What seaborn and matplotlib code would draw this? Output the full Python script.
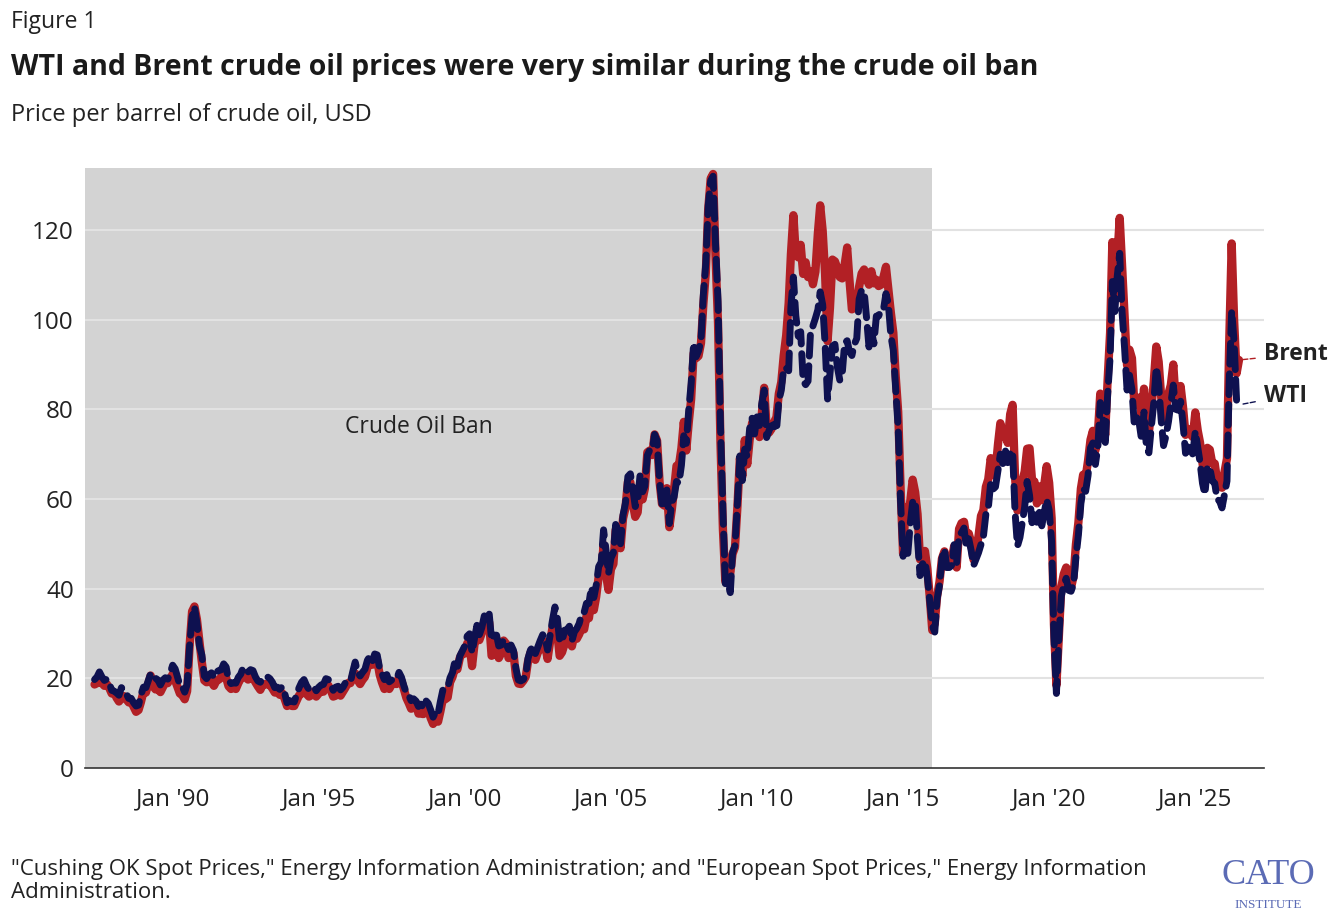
import pandas as pd
import numpy as np
import matplotlib
matplotlib.use("Agg")
import matplotlib.pyplot as plt
import seaborn as sns

# monthly averages, USD per barrel, starting May 1987
brent_by_year = {
    1987: [18.6, 18.9, 19.9, 18.9, 18.3, 18.7, 17.8, 16.6],
    1988: [16.8, 15.6, 14.8, 15.6, 16.0, 15.3, 14.6, 14.8, 13.6, 12.5, 12.9, 14.7],
    1989: [17.0, 16.8, 18.6, 20.6, 18.2, 17.5, 17.6, 16.9, 18.0, 19.2, 18.9, 19.9],
    1990: [20.9, 19.5, 18.1, 16.6, 16.2, 15.3, 17.1, 27.2, 34.9, 36.0, 33.1, 28.3],
    1991: [23.6, 19.5, 19.1, 19.2, 19.2, 18.3, 19.4, 19.7, 20.2, 21.4, 20.1, 18.2],
    1992: [17.6, 18.1, 17.6, 18.9, 19.9, 21.2, 20.2, 19.7, 20.2, 20.1, 19.1, 18.2],
    1993: [17.4, 18.6, 18.7, 18.6, 18.5, 17.7, 16.8, 17.0, 16.3, 16.7, 15.4, 13.8],
    1994: [14.3, 13.8, 13.8, 15.0, 16.2, 16.6, 17.5, 16.5, 15.9, 16.2, 17.0, 15.9],
    1995: [16.6, 17.2, 17.0, 18.6, 18.4, 17.3, 15.9, 16.1, 16.7, 16.1, 17.0, 17.9],
    1996: [18.9, 18.9, 20.3, 21.1, 19.6, 18.7, 19.6, 20.3, 22.4, 23.9, 23.0, 23.6],
    1997: [24.0, 20.8, 19.1, 17.6, 19.2, 17.6, 18.6, 18.8, 18.7, 20.3, 19.4, 17.5],
    1998: [15.6, 14.4, 13.2, 13.4, 14.5, 12.1, 12.1, 12.0, 13.4, 12.9, 11.1, 9.8],
    1999: [11.1, 10.3, 12.5, 15.3, 15.3, 15.7, 19.1, 20.3, 22.5, 22.0, 24.6, 25.6],
    2000: [25.5, 27.8, 27.3, 22.7, 27.5, 29.7, 28.5, 30.1, 32.8, 31.1, 32.5, 25.0],
    2001: [25.6, 27.5, 24.5, 25.6, 28.4, 27.7, 24.5, 25.8, 25.6, 20.5, 18.8, 18.7],
    2002: [19.4, 20.3, 23.7, 25.7, 25.4, 24.1, 25.7, 26.6, 28.4, 27.5, 24.3, 28.0],
    2003: [31.2, 32.8, 30.3, 25.0, 25.8, 27.6, 28.4, 29.8, 27.1, 29.6, 28.8, 29.8],
    2004: [31.2, 30.9, 33.8, 33.4, 37.6, 35.2, 38.2, 42.7, 43.2, 49.8, 43.1, 39.7],
    2005: [44.3, 45.5, 53.1, 51.9, 49.0, 55.6, 57.9, 63.8, 63.7, 59.0, 56.0, 57.0],
    2006: [63.6, 59.9, 62.3, 70.4, 70.8, 69.8, 74.4, 73.0, 63.8, 58.9, 58.5, 62.4],
    2007: [53.7, 57.6, 62.1, 67.4, 67.5, 71.3, 77.2, 70.8, 77.1, 82.3, 92.5, 91.4],
    2008: [91.9, 94.8, 103.3, 110.4, 124.6, 131.5, 132.5, 113.9, 99.1, 72.8, 53.2, 41.6],
    2009: [44.9, 43.4, 47.7, 49.2, 58.2, 69.1, 65.0, 73.1, 67.7, 73.2, 77.0, 74.7],
    2010: [76.2, 73.8, 78.8, 84.8, 75.9, 74.8, 75.6, 77.1, 78.2, 83.5, 86.1, 92.0],
    2011: [96.5, 103.7, 114.6, 123.3, 114.5, 113.9, 116.7, 110.2, 112.8, 109.5, 110.8, 107.9],
    2012: [110.7, 119.3, 125.5, 119.8, 110.3, 95.2, 102.6, 113.4, 113.0, 111.5, 109.5, 109.2],
    2013: [112.3, 116.1, 109.0, 102.3, 102.6, 102.9, 107.4, 110.3, 111.2, 109.1, 107.8, 110.8],
    2014: [108.1, 108.9, 107.5, 107.8, 109.5, 111.8, 106.8, 101.6, 97.1, 87.4, 79.4, 62.3],
    2015: [47.8, 58.1, 55.9, 59.5, 64.3, 61.5, 56.6, 46.5, 47.6, 48.4, 44.3, 38.0],
    2016: [30.7, 32.2, 38.2, 41.6, 46.7, 48.3, 44.9, 45.8, 46.6, 49.5, 44.7, 53.3],
    2017: [54.6, 54.9, 51.6, 52.3, 50.3, 46.4, 48.5, 51.7, 56.2, 57.5, 62.7, 64.4],
    2018: [69.1, 65.3, 66.0, 72.1, 76.9, 74.4, 74.3, 72.5, 78.9, 81.0, 64.8, 57.4],
    2019: [59.4, 64.0, 66.1, 71.2, 71.3, 64.2, 63.9, 59.0, 62.8, 59.7, 63.2, 67.3],
    2020: [63.6, 55.7, 32.0, 18.4, 29.4, 40.3, 43.2, 44.7, 40.9, 40.2, 42.7, 49.9],
    2021: [54.8, 62.3, 65.4, 64.8, 68.5, 73.2, 75.2, 70.8, 74.5, 83.5, 81.1, 74.2],
    2022: [86.5, 97.1, 117.3, 104.6, 113.3, 122.7, 111.9, 100.5, 89.8, 93.3, 91.4, 80.9],
    2023: [82.5, 82.6, 78.4, 84.6, 75.5, 74.8, 80.1, 86.2, 94.0, 90.6, 82.9, 77.6],
    2024: [80.1, 83.5, 85.4, 90.0, 81.8, 82.6, 85.2, 80.4, 74.3, 75.6, 74.4, 73.8],
    2025: [79.3, 75.2, 72.6, 68.0, 64.2, 71.4, 71.0, 67.9, 67.9, 64.0, 63.6, 62.5],
    2026: [66.0, 69.0, 95.0, 117.0, 100.0, 88.0, 91.0],
}

wti_by_year = {
    1987: [19.7, 20.3, 21.4, 20.3, 19.5, 19.8, 18.9, 17.3],
    1988: [17.1, 16.7, 16.2, 17.9, 17.4, 16.5, 15.5, 15.5, 14.5, 13.8, 14.0, 16.3],
    1989: [18.0, 17.9, 19.4, 21.0, 20.0, 20.0, 19.6, 18.5, 19.6, 20.1, 19.8, 21.1],
    1990: [22.9, 22.1, 20.4, 18.4, 18.2, 16.9, 18.6, 27.2, 33.7, 35.9, 32.3, 27.3],
    1991: [25.2, 20.5, 19.9, 20.8, 21.2, 20.2, 21.4, 21.7, 21.9, 23.2, 22.5, 19.5],
    1992: [18.8, 19.0, 18.9, 20.2, 20.9, 22.4, 21.8, 21.4, 21.9, 21.7, 20.3, 19.4],
    1993: [19.1, 20.1, 20.3, 20.3, 19.9, 19.1, 17.9, 18.0, 17.5, 18.1, 16.7, 14.5],
    1994: [15.0, 14.8, 14.7, 16.4, 17.9, 19.1, 19.7, 18.4, 17.5, 17.7, 18.1, 17.2],
    1995: [18.0, 18.5, 18.6, 19.9, 19.7, 18.5, 17.3, 18.0, 18.2, 17.4, 18.0, 19.0],
    1996: [18.9, 19.1, 21.4, 23.6, 21.3, 20.5, 21.3, 22.0, 24.0, 24.9, 23.7, 25.4],
    1997: [25.2, 22.2, 21.0, 19.7, 20.8, 19.2, 19.6, 19.9, 19.8, 21.3, 20.2, 18.3],
    1998: [16.7, 16.1, 15.0, 15.4, 14.9, 13.7, 14.2, 13.5, 15.0, 14.4, 12.9, 11.3],
    1999: [12.5, 12.0, 14.7, 17.3, 17.8, 17.9, 20.1, 21.3, 23.9, 22.6, 25.0, 26.1],
    2000: [27.2, 29.4, 29.9, 25.7, 28.8, 31.8, 29.7, 31.3, 33.9, 33.1, 34.4, 28.5],
    2001: [29.6, 29.6, 27.2, 27.4, 28.6, 27.6, 26.4, 27.4, 26.2, 22.2, 19.6, 19.4],
    2002: [19.7, 20.7, 24.4, 26.3, 27.0, 25.5, 26.9, 28.4, 29.7, 28.9, 26.3, 29.4],
    2003: [32.9, 35.9, 33.6, 28.3, 28.1, 30.7, 30.8, 31.6, 28.3, 30.3, 31.1, 32.2],
    2004: [34.3, 34.7, 36.7, 36.7, 40.3, 38.0, 40.7, 44.9, 45.9, 53.1, 48.5, 43.3],
    2005: [46.8, 48.0, 54.3, 53.0, 50.0, 56.4, 59.0, 65.0, 65.6, 62.4, 58.3, 59.4],
    2006: [65.5, 61.6, 62.9, 69.7, 70.9, 70.9, 74.4, 73.0, 63.8, 58.9, 59.1, 62.0],
    2007: [54.5, 59.3, 60.4, 63.9, 63.5, 67.5, 74.1, 72.4, 79.9, 85.8, 94.8, 91.7],
    2008: [93.0, 95.4, 105.5, 112.6, 125.4, 131.0, 132.0, 116.7, 104.1, 76.6, 57.3, 41.1],
    2009: [41.7, 39.1, 47.9, 49.6, 59.0, 69.6, 64.1, 71.1, 69.4, 75.7, 78.0, 74.5],
    2010: [78.3, 76.4, 81.2, 84.3, 73.7, 75.3, 76.3, 76.6, 75.2, 81.9, 84.3, 89.2],
    2011: [89.2, 88.6, 102.9, 109.5, 100.9, 96.3, 97.3, 86.3, 85.5, 86.3, 97.2, 98.6],
    2012: [100.3, 102.2, 106.2, 103.3, 94.7, 82.3, 87.9, 94.1, 94.5, 89.5, 86.5, 87.9],
    2013: [94.8, 95.3, 92.9, 92.0, 94.5, 95.8, 104.6, 106.6, 106.3, 100.5, 93.9, 97.6],
    2014: [94.6, 100.8, 100.8, 102.1, 102.2, 105.8, 103.6, 96.5, 93.2, 84.4, 75.8, 59.3],
    2015: [47.2, 50.6, 47.8, 54.5, 59.3, 59.8, 50.9, 42.9, 45.5, 46.2, 42.4, 37.2],
    2016: [31.7, 30.3, 37.6, 40.8, 46.7, 48.8, 44.7, 44.7, 45.2, 49.8, 45.7, 52.0],
    2017: [52.5, 53.5, 49.3, 51.1, 48.5, 45.2, 46.6, 48.0, 49.8, 51.6, 56.6, 57.9],
    2018: [63.7, 62.2, 62.7, 66.3, 70.0, 67.9, 71.0, 68.1, 70.2, 70.8, 57.0, 49.5],
    2019: [51.4, 55.0, 58.2, 63.9, 60.8, 54.7, 57.4, 54.8, 57.0, 54.0, 57.0, 59.9],
    2020: [57.5, 50.5, 29.2, 16.6, 28.6, 38.3, 40.7, 42.3, 39.6, 39.4, 41.0, 47.0],
    2021: [52.0, 59.0, 62.3, 61.7, 65.2, 71.4, 72.5, 67.7, 71.6, 81.5, 79.2, 71.7],
    2022: [83.2, 91.6, 108.5, 101.8, 109.6, 114.8, 101.6, 93.7, 84.3, 87.6, 84.4, 76.4],
    2023: [78.1, 76.8, 73.3, 79.4, 71.6, 70.3, 76.0, 81.4, 89.4, 85.6, 77.7, 71.9],
    2024: [74.1, 77.3, 81.3, 85.4, 80.0, 79.8, 81.8, 76.7, 70.2, 71.6, 69.4, 70.1],
    2025: [75.1, 71.5, 68.2, 63.5, 61.0, 67.3, 67.0, 64.0, 63.5, 60.0, 59.5, 58.0],
    2026: [61.0, 64.0, 86.0, 102.0, 95.0, 82.0, 81.0],
}

tick_years = [1990, 1995, 2000, 2005, 2010, 2015, 2020, 2025]
tick_labels = ["Jan '90", "Jan '95", "Jan '00", "Jan '05", "Jan '10", "Jan '15", "Jan '20", "Jan '25"]

brent = [v for y in sorted(brent_by_year) for v in brent_by_year[y]]
wti = [v for y in sorted(wti_by_year) for v in wti_by_year[y]]
dates = pd.date_range("1987-05-01", periods=len(brent), freq="MS")
df = pd.DataFrame({"date": dates, "Brent": brent, "WTI": wti})

sns.set_style("white")
plt.rcParams["font.family"] = ["Open Sans", "DejaVu Sans"]

RED = "#b22025"
NAVY = "#0e1150"
TXT = "#222222"

fig = plt.figure(figsize=(13.38, 9.24), dpi=100)
ax = fig.add_axes([0.0635, 0.169, 0.8815, 0.649])

ax.axvspan(pd.Timestamp("1987-01-01"), pd.Timestamp("2016-01-01"), color="#d3d3d3", zorder=0, lw=0)
for yv in range(20, 140, 20):
    ax.axhline(yv, color="#e2e2e2", lw=1.5, zorder=0.5)

sns.lineplot(data=df, x="date", y="Brent", ax=ax, color=RED, lw=6, zorder=2)
sns.lineplot(data=df, x="date", y="WTI", ax=ax, color=NAVY, lw=5, zorder=3)
ax.lines[-1].set_dashes([3, 1.4])
ax.lines[-1].set_dash_capstyle("round")

ax.set_xlim(pd.Timestamp("1987-01-01"), pd.Timestamp("2027-05-15"))
ax.set_ylim(0, 133.8)
ax.set_yticks(range(0, 140, 20))
ax.set_xticks([pd.Timestamp(f"{y}-01-01") for y in tick_years])
ax.set_xticklabels(tick_labels)
ax.tick_params(axis="both", labelsize=17.5, colors=TXT)
ax.tick_params(axis="x", length=6, width=1, color="#333333", pad=8)
ax.tick_params(axis="y", length=0, pad=8)
ax.set_xlabel("")
ax.set_ylabel("")
for s in ["top", "right", "left"]:
    ax.spines[s].set_visible(False)
ax.spines["bottom"].set_color("#333333")
ax.spines["bottom"].set_linewidth(1.2)

ax.text(pd.Timestamp("1998-06-01"), 76, "Crude Oil Ban", fontsize=16.5, color=TXT, ha="center", va="center")

last = df["date"].iloc[-1]
ax.annotate("Brent", xy=(last, df["Brent"].iloc[-1]), xytext=(1264 / 1338, 1 - 354 / 924),
            textcoords="figure fraction", fontsize=16.5, fontweight="bold", color=TXT, va="center",
            arrowprops=dict(arrowstyle="-", color=RED, ls="--", lw=1, shrinkA=4, shrinkB=3))
ax.annotate("WTI", xy=(last, df["WTI"].iloc[-1]), xytext=(1264 / 1338, 1 - 396 / 924),
            textcoords="figure fraction", fontsize=16.5, fontweight="bold", color=TXT, va="center",
            arrowprops=dict(arrowstyle="-", color=NAVY, ls="--", lw=1, shrinkA=4, shrinkB=3))

fig.text(0.008, 1 - 22 / 924, "Figure 1", fontsize=16.5, color=TXT, va="center")
fig.text(0.008, 1 - 68 / 924, "WTI and Brent crude oil prices were very similar during the crude oil ban",
         fontsize=20.5, fontweight="bold", color="#1a1a1a", va="center")
fig.text(0.008, 1 - 115 / 924, "Price per barrel of crude oil, USD", fontsize=17, color=TXT, va="center")
fig.text(0.008, 1 - 881 / 924,
         "\"Cushing OK Spot Prices,\" Energy Information Administration; and \"European Spot Prices,\" Energy Information\nAdministration.",
         fontsize=16, color=TXT, va="center", linespacing=1.15)
fig.text(0.948, 1 - 875 / 924, "CATO", fontsize=26, family="Liberation Serif", color="#5b6bb5", ha="center", va="center")
fig.text(0.948, 1 - 905 / 924, "INSTITUTE", fontsize=9.5, family="Liberation Serif", color="#5b6bb5", ha="center", va="center")

fig.savefig("out.png", dpi=100)
